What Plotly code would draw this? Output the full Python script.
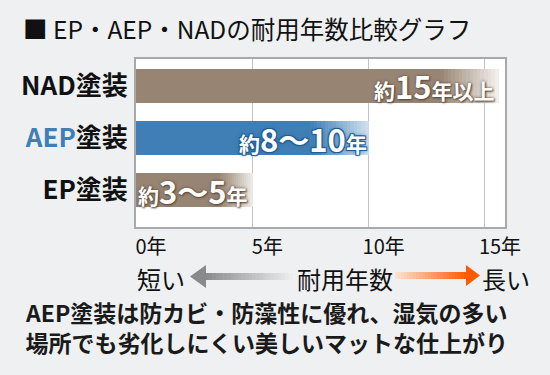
import plotly.graph_objects as go

# ---- data ----
categories = ["EP塗装", "AEP塗装", "NAD塗装"]
cat_pos = [0, 1, 2]
years = [5, 10, 15.6]
label_prefix = ["約", "約", "約"]
label_nums = ["3〜5", "8〜10", "15"]
label_suffix = ["年", "年", "年以上"]
x_tickvals = [0, 5, 10, 15]
x_ticktext = ["0年", "5年", "10年", "15年"]

# ---- style ----
FONT = "Noto Sans CJK JP"
BG = "#eef0f2"
BROWN = "#988473"
BLUE = "#3f7fb5"
start_cols = [BROWN, BLUE, BROWN]
end_cols = ["#efebe7", "#cfe0ee", "#f4f1ee"]
fade_len = [1.4, 2.5, 2.5]
shadow = ["0 0 3px #5c4a3c, 1px 1px 2px #5c4a3c",
          "1px 1px 0 #1f5e94, -1px -1px 0 #1f5e94, 1px -1px 0 #1f5e94, -1px 1px 0 #1f5e94, 0 0 4px #1f5e94",
          "0 0 3px #5c4a3c, 1px 1px 2px #5c4a3c"]

L, R, T, B = 136, 505, 59, 227


def hex2rgb(h):
    h = h.lstrip("#")
    return tuple(int(h[i:i + 2], 16) for i in (0, 2, 4))


def mix(a, b, t):
    ra, rb = hex2rgb(a), hex2rgb(b)
    return "rgb(%d,%d,%d)" % tuple(round(ra[i] + (rb[i] - ra[i]) * t) for i in range(3))


def px(x):
    return (x - L) / (R - L)


def py(y):
    return (B - y) / (B - T)


fig = go.Figure()

# solid parts
fig.add_trace(go.Bar(
    y=cat_pos, x=[v - f for v, f in zip(years, fade_len)], base=[0] * 3,
    orientation="h", width=0.65, marker=dict(color=start_cols, line=dict(width=0)),
    hoverinfo="skip", showlegend=False))

# gradient fade steps
N = 16
for k in range(N):
    t = (k + 0.5) / N
    fig.add_trace(go.Bar(
        y=cat_pos,
        x=[f / N + 0.03 for f in fade_len],
        base=[v - f + k * f / N - 0.015 for v, f in zip(years, fade_len)],
        orientation="h", width=0.65,
        marker=dict(color=[mix(s, e, t) for s, e in zip(start_cols, end_cols)], line=dict(width=0)),
        hoverinfo="skip", showlegend=False))

annotations = []
# value labels in bars
xs_right = [4.9, 10.0, 15.5]
for i in range(3):
    txt = (label_prefix[i] + "<span style='font-size:31px'>" + label_nums[i] + "</span>"
           + label_suffix[i])
    annotations.append(dict(
        x=xs_right[i], y=cat_pos[i], xref="x", yref="y", xanchor="right", yanchor="middle",
        text=txt, showarrow=False,
        font=dict(family=FONT, size=21, color="white", weight=700, shadow=shadow[i])))

# title
annotations.append(dict(
    x=px(21), y=py(28), xref="paper", yref="paper", xanchor="left", yanchor="middle",
    text="■ EP・AEP・NADの耐用年数比較グラフ", showarrow=False,
    font=dict(family=FONT, size=24.5, color="#111111")))

# arrow row text
for txt, cx in [("短い", 161), ("耐用年数", 345), ("長い", 506)]:
    annotations.append(dict(
        x=px(cx), y=py(278), xref="paper", yref="paper", xanchor="center", yanchor="middle",
        text=txt, showarrow=False, font=dict(family=FONT, size=24, color="#111111")))

# bottom caption
annotations.append(dict(
    x=px(266), y=py(327), xref="paper", yref="paper", xanchor="center", yanchor="middle",
    text="AEP塗装は防カビ・防藻性に優れ、湿気の多い<br>場所でも劣化しにくい美しいマットな仕上がり",
    showarrow=False,
    font=dict(family=FONT, size=23, color="#1a1a1a", weight=700)))

shapes = []
# gray arrow (left)
ga_x0, ga_x1, ga_head = 190, 292, 205
S = 24
for k in range(S):
    a = ga_head + (ga_x1 - ga_head) * k / S
    b = ga_head + (ga_x1 - ga_head) * (k + 1) / S + 0.6
    shapes.append(dict(type="rect", xref="paper", yref="paper",
                       x0=px(a), x1=px(b), y0=py(273), y1=py(280),
                       fillcolor=mix("#8a8a8a", "#eceeef", (k + 0.5) / S), line=dict(width=0)))
shapes.append(dict(type="path", xref="paper", yref="paper",
                   path="M %f,%f L %f,%f L %f,%f Z" % (px(ga_x0), py(276.5), px(ga_head + 1), py(265),
                                                       px(ga_head + 1), py(288)),
                   fillcolor="#8a8a8a", line=dict(width=0)))
# orange arrow (right)
oa_x0, oa_head, oa_x1 = 395, 467, 480
for k in range(S):
    a = oa_x0 + (oa_head - oa_x0) * k / S
    b = oa_x0 + (oa_head - oa_x0) * (k + 1) / S + 0.6
    shapes.append(dict(type="rect", xref="paper", yref="paper",
                       x0=px(a), x1=px(b), y0=py(272), y1=py(279),
                       fillcolor=mix("#fde3d2", "#ff5a00", (k + 0.5) / S), line=dict(width=0)))
shapes.append(dict(type="path", xref="paper", yref="paper",
                   path="M %f,%f L %f,%f L %f,%f Z" % (px(oa_x1), py(275.5), px(oa_head - 1), py(265),
                                                       px(oa_head - 1), py(286)),
                   fillcolor="#ff5a00", line=dict(width=0)))

ytick_text = ["EP塗装", "<span style='color:%s'>AEP</span>塗装" % BLUE, "NAD塗装"]

fig.update_layout(
    width=550, height=375,
    margin=dict(l=L, r=550 - R, t=T, b=375 - B, autoexpand=False),
    paper_bgcolor=BG, plot_bgcolor="white",
    barmode="overlay", bargap=0,
    annotations=annotations, shapes=shapes,
    font=dict(family=FONT, color="#111111"),
    xaxis=dict(range=[0, 15.86], tickvals=x_tickvals, ticktext=x_ticktext, automargin=False,
               showgrid=True, gridcolor="#c4c4c4", gridwidth=1, zeroline=False,
               showline=True, linecolor="#a9a9a9", linewidth=2, mirror=True,
               ticks="", ticklabelstandoff=1, ticklabelshift=15,
               tickfont=dict(family=FONT, size=20, color="#111111"), fixedrange=True),
    yaxis=dict(range=[-0.705, 2.514], tickvals=cat_pos, ticktext=ytick_text, automargin=False,
               showgrid=False, zeroline=False,
               showline=True, linecolor="#a9a9a9", linewidth=2, mirror=True,
               ticks="", ticklabelstandoff=1,
               tickfont=dict(family=FONT, size=26, color="#111111", weight=700), fixedrange=True),
)

fig.write_html(
    "out.html",
    config={"displayModeBar": False, "staticPlot": True},
    post_script="document.body.style.margin='0';document.body.style.background='%s';" % BG,
)
